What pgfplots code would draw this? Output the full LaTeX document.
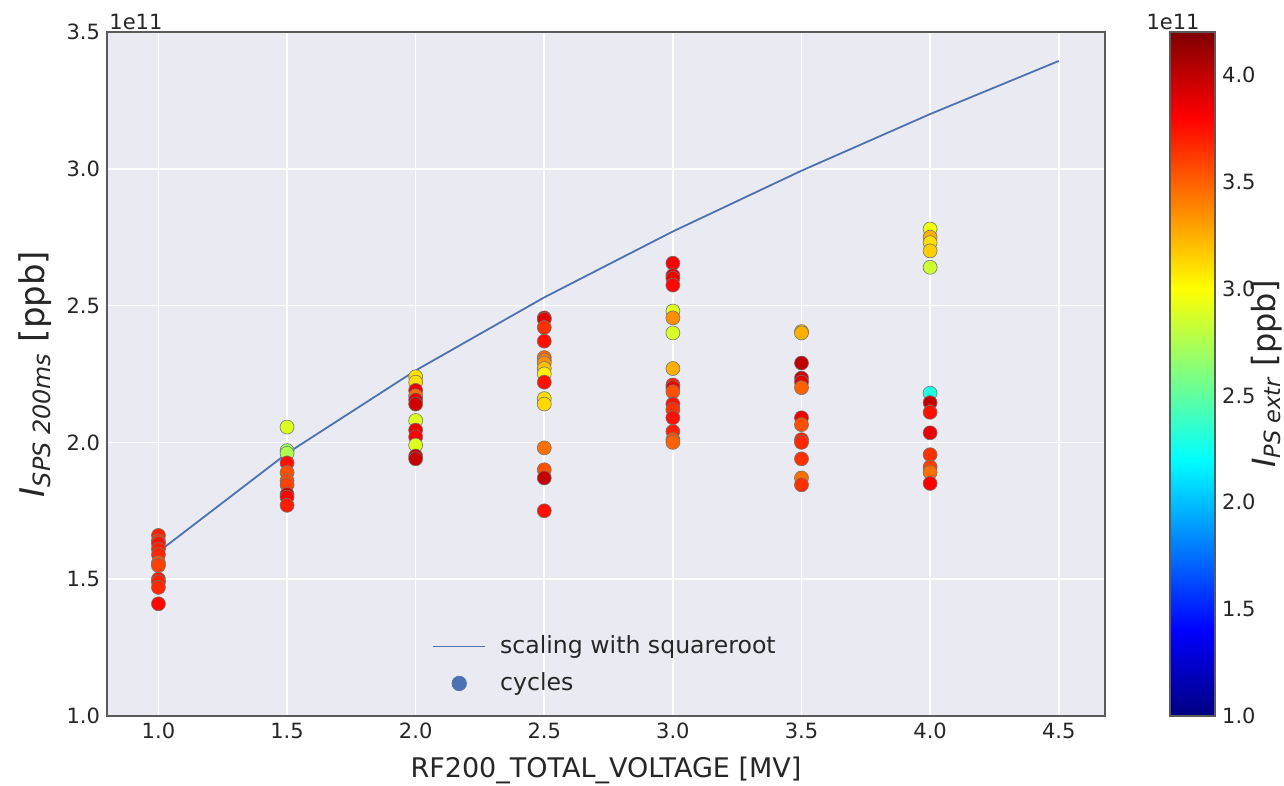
\documentclass[border=0pt]{standalone}
\usepackage{pgfplots}
\pgfplotsset{compat=1.18}
\usepackage{fontspec}
\setmainfont{DejaVu Sans}
\definecolor{bgc}{HTML}{EAEAF2}
\definecolor{lineblue}{HTML}{4C72B0}
\definecolor{framec}{HTML}{5A5A5A}
\definecolor{txt}{HTML}{262626}

\pgfplotstableread{
x y c
1.0 1.66 3.70
1.0 1.64 3.65
1.0 1.63 3.75
1.0 1.61 3.70
1.0 1.59 3.68
1.0 1.56 3.55
1.0 1.55 3.60
1.0 1.50 3.72
1.0 1.49 3.70
1.0 1.47 3.68
1.0 1.41 3.78
1.5 2.056 2.90
1.5 1.97 2.70
1.5 1.96 2.75
1.5 1.925 3.75
1.5 1.89 3.55
1.5 1.86 3.55
1.5 1.845 3.60
1.5 1.81 3.95
1.5 1.80 3.80
1.5 1.77 3.72
2.0 2.24 3.10
2.0 2.22 3.10
2.0 2.19 3.85
2.0 2.17 3.45
2.0 2.155 3.90
2.0 2.14 3.95
2.0 2.08 2.90
2.0 2.045 3.85
2.0 2.02 3.80
2.0 1.99 2.90
2.0 1.95 4.00
2.0 1.94 3.98
2.5 2.455 3.95
2.5 2.45 3.90
2.5 2.42 3.65
2.5 2.37 3.75
2.5 2.31 3.50
2.5 2.30 3.40
2.5 2.29 3.35
2.5 2.27 3.20
2.5 2.25 3.05
2.5 2.22 3.75
2.5 2.16 3.10
2.5 2.14 3.12
2.5 1.98 3.45
2.5 1.90 3.55
2.5 1.87 3.98
2.5 1.75 3.75
3.0 2.655 3.80
3.0 2.61 3.92
3.0 2.60 3.85
3.0 2.575 3.78
3.0 2.48 2.90
3.0 2.455 3.35
3.0 2.40 2.88
3.0 2.27 3.25
3.0 2.21 3.70
3.0 2.20 3.85
3.0 2.185 3.55
3.0 2.14 3.75
3.0 2.12 3.65
3.0 2.09 3.75
3.0 2.04 3.70
3.0 2.01 3.55
3.0 2.00 3.50
3.5 2.405 3.20
3.5 2.40 3.25
3.5 2.29 4.00
3.5 2.235 3.95
3.5 2.22 3.90
3.5 2.20 3.50
3.5 2.09 3.85
3.5 2.065 3.55
3.5 2.01 3.70
3.5 2.00 3.68
3.5 1.94 3.65
3.5 1.87 3.45
3.5 1.845 3.65
4.0 2.78 2.95
4.0 2.75 3.25
4.0 2.73 3.10
4.0 2.70 3.15
4.0 2.64 2.85
4.0 2.18 2.30
4.0 2.145 3.98
4.0 2.11 3.75
4.0 2.035 3.85
4.0 1.955 3.65
4.0 1.91 3.60
4.0 1.89 3.45
4.0 1.85 3.80
}\cycles

\begin{document}
\begin{tikzpicture}
\path[use as bounding box] (-53.5pt,-35pt) rectangle (588.5pt,358pt);
\begin{axis}[
  at={(0pt,0pt)}, anchor=south west,
  scale only axis, width=499pt, height=342pt,
  xmin=0.8, xmax=4.68, ymin=1.0, ymax=3.5,
  xtick={1.0,1.5,2.0,2.5,3.0,3.5,4.0,4.5},
  ytick={1.0,1.5,2.0,2.5,3.0,3.5},
  /pgf/number format/fixed, /pgf/number format/fixed zerofill,
  /pgf/number format/precision=1, /pgf/number format/assume math mode=true,
  axis background/.style={fill=bgc},
  grid=major,
  major grid style={white, line width=0.8pt},
  axis line style={framec, line width=1pt},
  tick style={draw=none},
  ticklabel style={font=\fontsize{10.5}{12}\selectfont, text=txt},
  xlabel={RF200\_TOTAL\_VOLTAGE [MV]},
  xlabel style={font=\fontsize{13.5}{15}\selectfont, text=txt, at={(axis description cs:0.5,-0.079)}, anchor=center},
  ylabel={\textit{I}\textsubscript{\textit{SPS 200ms}} [ppb]},
  every axis y label/.style={font=\fontsize{17}{19}\selectfont, text=txt, at={(axis description cs:-0.072,0.5)}, anchor=center, rotate=90},
  colormap/jet,
  point meta min=1.0, point meta max=4.2,
  colorbar,
  colorbar/width=22.5pt,
  colorbar style={
    at={(parent axis.north east)}, anchor=north west, xshift=24pt,
    ytick={1.0,1.5,2.0,2.5,3.0,3.5,4.0},
    /pgf/number format/fixed, /pgf/number format/fixed zerofill,
    /pgf/number format/precision=1, /pgf/number format/assume math mode=true,
    yticklabel style={font=\fontsize{10.5}{12}\selectfont, text=txt},
    axis line style={framec, line width=1pt},
    tick style={draw=none},
    ylabel={\textit{I}\textsubscript{\textit{PS extr}} [ppb]},
    every axis y label/.style={font=\fontsize{16}{18}\selectfont, text=txt, at={(axis description cs:2.15,0.5)}, anchor=center, rotate=90},
  },
  legend style={at={(0.5,0.02)}, anchor=south, draw=none, fill=none,
    font=\fontsize{11.8}{13}\selectfont, text=txt, row sep=4pt},
  legend cell align=left,
]
\addplot[scatter, only marks, mark=*, mark size=3.5pt, scatter src=explicit,
  scatter/use mapped color={draw=black!55, fill=mapped color},
  mark options={line width=0.3pt}, forget plot]
  table[x=x, y=y, meta=c] {\cycles};
\addplot[lineblue, line width=0.9pt,
  legend image code/.code={\draw[lineblue, line width=0.9pt] (0pt,0pt) -- (26pt,0pt); \path (31pt,0pt);}]
  coordinates {(1.0,1.6) (1.5,1.960) (2.0,2.263) (2.5,2.530) (3.0,2.771) (3.5,2.993) (4.0,3.2) (4.5,3.394)};
\addlegendentry{scaling with squareroot}
\addlegendimage{legend image code/.code={\fill[lineblue] (13pt,0pt) circle (3.6pt); \path (31pt,0pt);}}
\addlegendentry{cycles}
\end{axis}
\node[anchor=south west, inner sep=1pt, font=\fontsize{10.5}{12}\selectfont, text=txt] at (0pt,342pt) {1e11};
\node[anchor=south, inner sep=1pt, font=\fontsize{10.5}{12}\selectfont, text=txt] at (533pt,342pt) {1e11};
\end{tikzpicture}
\end{document}
